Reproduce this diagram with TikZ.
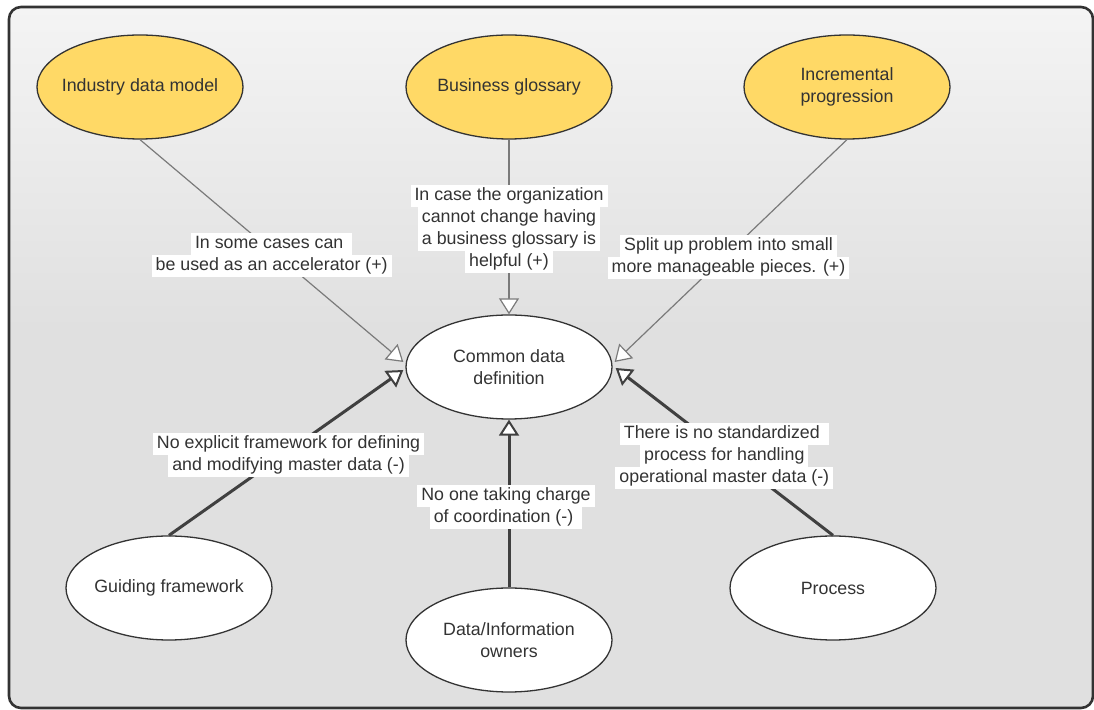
\documentclass[tikz,border=0pt]{standalone}
\usepackage{fontspec}
\setmainfont{Liberation Sans}
\usetikzlibrary{shapes.geometric,arrows.meta}
\definecolor{bgtop}{HTML}{F4F4F4}
\definecolor{bgbot}{HTML}{E0E0E0}
\definecolor{yel}{HTML}{FFD966}
\definecolor{txt}{HTML}{333333}
\definecolor{thinc}{HTML}{7A7A7A}
\definecolor{thickc}{HTML}{404040}
\pgfdeclareverticalshading{bgshade}{100bp}{color(0bp)=(bgbot); color(25bp)=(bgbot); color(52bp)=(bgbot); color(75bp)=(bgtop); color(100bp)=(bgtop)}
\newcommand{\wl}[1]{{\setlength{\fboxsep}{0pt}\colorbox{white}{\hspace{2pt}\strut#1\hspace{2pt}}}}
\begin{document}
\begin{tikzpicture}[x=0.5pt,y=-0.5pt,
  every node/.style={font=\fontsize{8.9}{11}\selectfont, text=txt},
  oval/.style={ellipse, draw=txt, line width=0.65pt, minimum width=103pt, minimum height=52pt, inner xsep=-8pt, inner ysep=0pt, align=center},
  yoval/.style={oval, fill=yel},
  woval/.style={oval, fill=white},
  lbl/.style={inner sep=0pt, align=center, yshift=-2pt},
  thinedge/.style={draw=thinc, line width=0.6pt, -{Triangle[length=8pt,width=10pt,fill=white,line width=0.6pt]}},
  thickedge/.style={draw=thickc, line width=1.5pt, -{Triangle[length=8pt,width=10pt,fill=white,line width=1pt]}}
]
\useasboundingbox (0,0) rectangle (1094,710);
\shade[shading=bgshade, rounded corners=6pt] (9,7) rectangle (1093,708);
\draw[draw=txt, line width=1.3pt, rounded corners=6pt] (9,7) rectangle (1093,708);

\node[yoval] (ind) at (140,87) {Industry data model};
\node[yoval] (biz) at (509,87) {Business glossary};
\node[yoval] (inc) at (847,87) {Incremental\\progression};
\node[woval] (cdd) at (509,367) {Common data\\definition};
\node[woval] (gui) at (169,588) {Guiding framework};
\node[woval] (own) at (509,640) {Data/Information\\owners};
\node[woval] (pro) at (833,588) {Process};

\draw[thinedge] (ind.south) -- node[lbl,pos=0.5] {\wl{In some cases can\ }\\\wl{be used as an accelerator (+)}} ([xshift=-1pt,yshift=2.5pt]cdd.west);
\draw[thinedge] (biz.south) -- node[lbl,pos=0.49] {\wl{In case the organization}\\\wl{cannot change having}\\\wl{a business glossary is}\\\wl{helpful (+)}} (cdd.north);
\draw[thinedge] (inc.south) -- node[lbl,pos=0.51] {\wl{Split up problem into small}\\\wl{more manageable pieces. (+)}} ([xshift=1pt,yshift=2.5pt]cdd.east);
\draw[thickedge] (gui.north) -- node[lbl,pos=0.51] {\wl{No explicit framework for defining}\\\wl{and modifying master data (-)}} ([xshift=-1pt,yshift=-1.5pt]cdd.west);
\draw[thickedge] (own.north) -- node[lbl,pos=0.5,xshift=-1.5pt] {\wl{No one taking charge}\\\wl{of coordination (-)\ }} (cdd.south);
\draw[thickedge] (pro.north) -- node[lbl,pos=0.5] {\wl{There is no standardized\ }\\\wl{process for handling}\\\wl{operational master data (-)}} ([xshift=1.5pt,yshift=-0.5pt]cdd.east);
\end{tikzpicture}
\end{document}
